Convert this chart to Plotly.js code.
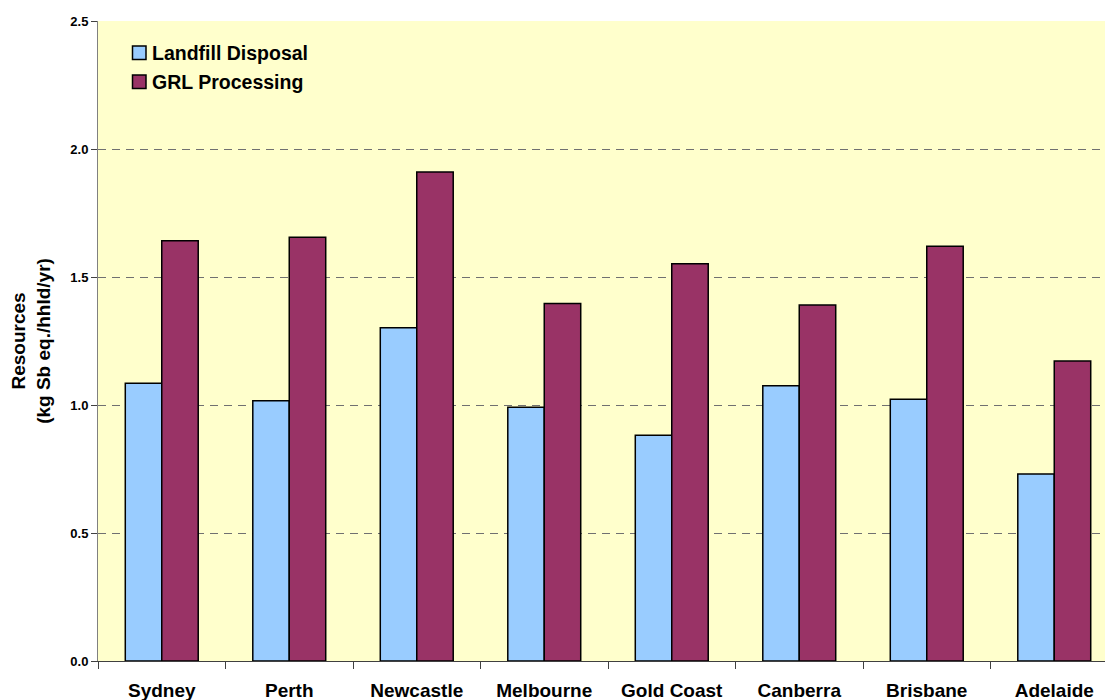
<!DOCTYPE html>
<html>
<head>
<meta charset="utf-8">
<script src="https://cdn.plot.ly/plotly-3.0.1.min.js"></script>
<style>
  html, body { margin: 0; padding: 0; background: #ffffff; }
  #chart { width: 1105px; height: 700px; }
</style>
</head>
<body>
<div id="chart"></div>
<script>
// Cities compared
var cities = ["Sydney", "Perth", "Newcastle", "Melbourne", "Gold Coast", "Canberra", "Brisbane", "Adelaide"];

// Resource use per household per year (kg Sb eq.)
var landfillDisposal = [1.085, 1.017, 1.302, 0.991, 0.882, 1.075, 1.022, 0.730];
var grlProcessing    = [1.642, 1.655, 1.910, 1.396, 1.552, 1.391, 1.620, 1.172];

var seriesNames = ["Landfill Disposal", "GRL Processing"];
var seriesColors = ["#99CCFF", "#993366"];
var yTicks = [0, 0.5, 1.0, 1.5, 2.0, 2.5];

var font = "Liberation Sans, Arial, sans-serif";

var W = 1105, H = 700;
var M = { l: 98, r: 0, t: 21, b: 39 };
var plotW = W - M.l - M.r, plotH = H - M.t - M.b;

var traces = [landfillDisposal, grlProcessing].map(function (vals, i) {
  return {
    type: "bar",
    name: seriesNames[i],
    x: cities,
    y: vals,
    marker: { color: seriesColors[i], line: { color: "#000000", width: 1.5 } },
    hoverinfo: "x+y+name"
  };
});

// Boxed legend keys in the top-left corner of the plot area
function px2x(px) { return (px - M.l) / plotW; }
function px2y(py) { return 1 - (py - M.t) / plotH; }

var legendShapes = [], legendNotes = [];
seriesNames.forEach(function (name, i) {
  var top = 46 + i * 29;
  legendShapes.push({
    type: "rect", xref: "paper", yref: "paper",
    x0: px2x(132.5), x1: px2x(146), y0: px2y(top + 13.5), y1: px2y(top),
    fillcolor: seriesColors[i],
    line: { color: "#000000", width: 1.5 }
  });
  legendNotes.push({
    xref: "paper", yref: "paper",
    x: px2x(150), y: px2y(top + 7), xanchor: "left", yanchor: "middle",
    text: name, showarrow: false,
    font: { family: font, size: 19.5, color: "#000000", weight: "bold" }
  });
});

var layout = {
  width: W,
  height: H,
  margin: M,
  paper_bgcolor: "#ffffff",
  plot_bgcolor: "#FFFFCC",
  barmode: "group",
  bargap: 0.428,
  bargroupgap: 0,
  font: { family: font, color: "#000000" },
  showlegend: false,
  shapes: legendShapes,
  annotations: legendNotes,
  xaxis: {
    type: "category",
    range: [-0.5, 7.398],
    showgrid: false,
    showline: true,
    linecolor: "#404040",
    linewidth: 1,
    ticks: "outside",
    tickson: "boundaries",
    ticklen: 7,
    tickcolor: "#404040",
    ticklabelstandoff: 12,
    tickfont: { family: font, size: 19, color: "#000000", weight: "bold" },
    zeroline: false,
    fixedrange: true
  },
  yaxis: {
    range: [0, 2.5],
    tickvals: yTicks,
    tickformat: ".1f",
    ticks: "outside",
    ticklen: 6,
    tickcolor: "#404040",
    showline: true,
    linecolor: "#808080",
    linewidth: 1,
    showgrid: true,
    gridcolor: "#707070",
    griddash: "8px,6px",
    gridwidth: 1,
    zeroline: false,
    tickfont: { family: font, size: 13, color: "#000000", weight: "bold" },
    title: {
      text: "Resources<br>(kg Sb eq./hhld/yr)",
      font: { family: font, size: 19, color: "#000000", weight: "bold" },
      standoff: 14
    },
    fixedrange: true
  }
};

Plotly.newPlot("chart", traces, layout, { displayModeBar: false, staticPlot: true });
</script>
</body>
</html>
